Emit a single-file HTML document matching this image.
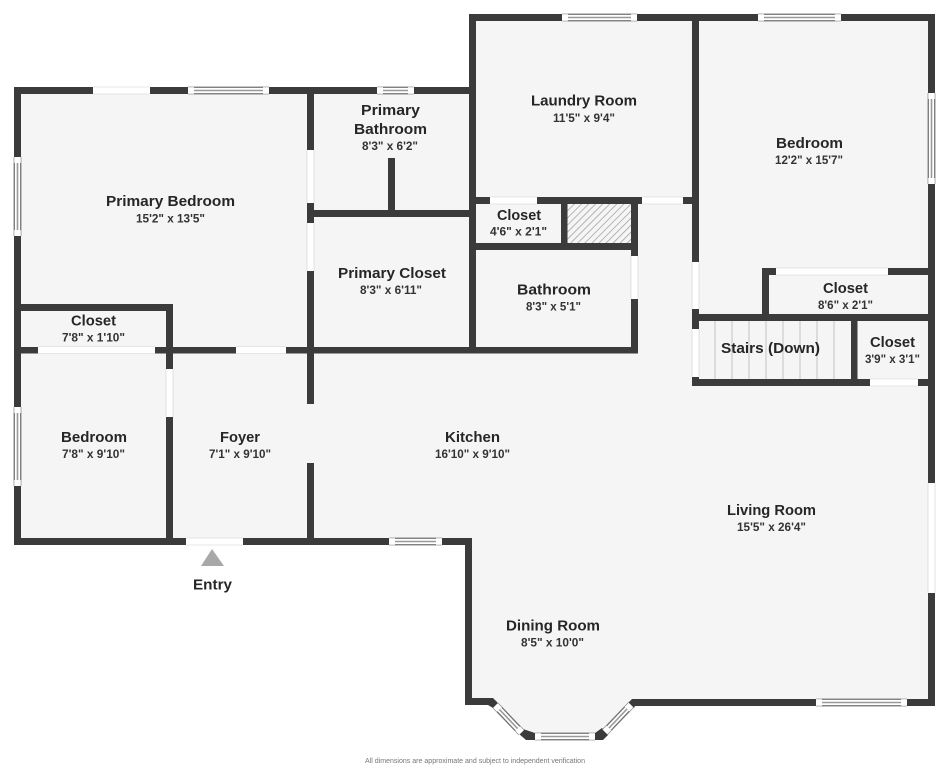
<!DOCTYPE html>
<html>
<head>
<meta charset="utf-8">
<title>Floor plan</title>
<style>
html,body{margin:0;padding:0;background:#fff}
svg{display:block}
text{font-family:"Liberation Sans",sans-serif;font-weight:700;font-size:14.5px;fill:#262626}
text.s{font-size:12px;fill:#333}
text.f{font-size:7px;font-weight:400;fill:#777}
.w{fill:#3b3b3b}
path,line{fill:none}
</style>
</head>
<body>
<svg width="949" height="768" viewBox="0 0 949 768" xmlns="http://www.w3.org/2000/svg">
<defs>
<pattern id="h" width="5" height="5" patternUnits="userSpaceOnUse" patternTransform="rotate(45)">
<rect width="5" height="5" fill="#f5f5f5"/><line x1="0" y1="0" x2="0" y2="5" stroke="#999" stroke-width="1.4"/>
</pattern>
<path id="win" d="M188 90.5H269M377 90.5H414M562 17.5H637M758 17.5H841M931.5 93V184M17.5 157V236M17.5 407V486M389 541.5H442M816 702.5H907M535 736.5H595M495.5 705.5L521.5 732.5M605 732L631 705"/>
<path id="inn" d="M194 90.5H263M383 90.5H408M568 17.5H631M764 17.5H835M931.5 99V178M17.5 163V230M17.5 413V480M395 541.5H436M822 702.5H901M541 736.5H589M499.5 709.5L517.5 728.5M609 728L627 709"/>
<path id="dr" d="M93 90.5H150M490 200.5H537M642 200.5H683M776 271.5H888M870 382.5H918M38 350H155M236 350H286M186 541.5H243M310.5 150V203M310.5 223V271M634.5 256V299M695.5 262V309M695.5 329V377M931.5 483V593M169.5 369V417"/>
</defs>

<polygon fill="#f5f5f5" points="14,87 469,87 469,14 935,14 935,706 635,706 605,738 522,738 492,705 465,705 465,545 14,545"/>
<rect x="567" y="204" width="65" height="39" fill="url(#h)"/>

<g stroke="#c4c4c4" stroke-width="1" fill="none">
<path d="M715 321V379M732 321V379M749 321V379M766 321V379M783 321V379M800 321V379M817 321V379M834 321V379"/>
</g>

<g class="w">
<rect x="14" y="87" width="458" height="7"/>
<rect x="469" y="14" width="466" height="7"/>
<rect x="14" y="87" width="7" height="458"/>
<rect x="14" y="538" width="458" height="7"/>
<rect x="465" y="538" width="7" height="167"/>
<rect x="928" y="14" width="7" height="692"/>
<rect x="469" y="14" width="7" height="339"/>
<rect x="692" y="14" width="7" height="372"/>
<rect x="307" y="87" width="7" height="317"/>
<rect x="307" y="463" width="7" height="82"/>
<rect x="166" y="304" width="7" height="241"/>
<rect x="14" y="304" width="159" height="7"/>
<rect x="14" y="347" width="624" height="6.5"/>
<rect x="631" y="197" width="7" height="156"/>
<rect x="469" y="197" width="230" height="7"/>
<rect x="469" y="243" width="169" height="7"/>
<rect x="561" y="197" width="6.5" height="53"/>
<rect x="307" y="210" width="169" height="7"/>
<rect x="388" y="158" width="7" height="59"/>
<rect x="762" y="268" width="173" height="7"/>
<rect x="762" y="268" width="7" height="53"/>
<rect x="692" y="314" width="243" height="7"/>
<rect x="851" y="314" width="6.5" height="72"/>
<rect x="692" y="379" width="243" height="7"/>
<polygon points="465,698 493,698 498,703 493,708 488,705 465,705"/>
<polygon points="628,703 632,699 935,699 935,706 635,706 634,708"/>
<polygon points="518,733 523,729 535,733 535,740 526,740"/>
<polygon points="595,733 602,728 608,735 603,740 595,740"/>
</g>

<use href="#dr" stroke="#cfcfcf" stroke-width="7.6" fill="none"/>
<use href="#dr" stroke="#fff" stroke-width="6.4" fill="none"/>
<use href="#win" stroke="#8c8c8c" stroke-width="7.8" fill="none"/>
<use href="#win" stroke="#fff" stroke-width="6.4" fill="none"/>
<use href="#inn" stroke="#707070" stroke-width="7.4" fill="none"/>
<use href="#inn" stroke="#fff" stroke-width="5.2" fill="none"/>
<use href="#inn" stroke="#999" stroke-width="1.6" fill="none"/>

<polygon points="212,549 201,566 224,566" fill="#a8a8a8"/>

<text x="106" y="206" textLength="129" lengthAdjust="spacingAndGlyphs">Primary Bedroom</text>
<text class="s" x="136" y="222.5" textLength="69" lengthAdjust="spacingAndGlyphs">15'2" x 13'5"</text>
<text x="71" y="325.5" textLength="45" lengthAdjust="spacingAndGlyphs">Closet</text>
<text class="s" x="62" y="341.5" textLength="63" lengthAdjust="spacingAndGlyphs">7'8" x 1'10"</text>
<text x="361" y="115" textLength="59" lengthAdjust="spacingAndGlyphs">Primary</text>
<text x="354" y="134" textLength="73" lengthAdjust="spacingAndGlyphs">Bathroom</text>
<text class="s" x="362" y="150" textLength="56" lengthAdjust="spacingAndGlyphs">8'3" x 6'2"</text>
<text x="531" y="105.5" textLength="106" lengthAdjust="spacingAndGlyphs">Laundry Room</text>
<text class="s" x="553" y="122" textLength="62" lengthAdjust="spacingAndGlyphs">11'5" x 9'4"</text>
<text x="497" y="220" textLength="44" lengthAdjust="spacingAndGlyphs">Closet</text>
<text class="s" x="490" y="235.5" textLength="57" lengthAdjust="spacingAndGlyphs">4'6" x 2'1"</text>
<text x="338" y="278" textLength="108" lengthAdjust="spacingAndGlyphs">Primary Closet</text>
<text class="s" x="360" y="294" textLength="62" lengthAdjust="spacingAndGlyphs">8'3" x 6'11"</text>
<text x="517" y="294.5" textLength="74" lengthAdjust="spacingAndGlyphs">Bathroom</text>
<text class="s" x="526" y="310.5" textLength="55" lengthAdjust="spacingAndGlyphs">8'3" x 5'1"</text>
<text x="776" y="148" textLength="67" lengthAdjust="spacingAndGlyphs">Bedroom</text>
<text class="s" x="775" y="164" textLength="68" lengthAdjust="spacingAndGlyphs">12'2" x 15'7"</text>
<text x="823" y="293" textLength="45" lengthAdjust="spacingAndGlyphs">Closet</text>
<text class="s" x="818" y="309" textLength="55" lengthAdjust="spacingAndGlyphs">8'6" x 2'1"</text>
<text x="721" y="353" textLength="99" lengthAdjust="spacingAndGlyphs">Stairs (Down)</text>
<text x="870" y="347" textLength="45" lengthAdjust="spacingAndGlyphs">Closet</text>
<text class="s" x="865" y="363" textLength="55" lengthAdjust="spacingAndGlyphs">3'9" x 3'1"</text>
<text x="61" y="442" textLength="66" lengthAdjust="spacingAndGlyphs">Bedroom</text>
<text class="s" x="62" y="458" textLength="63" lengthAdjust="spacingAndGlyphs">7'8" x 9'10"</text>
<text x="220" y="442" textLength="40" lengthAdjust="spacingAndGlyphs">Foyer</text>
<text class="s" x="209" y="458" textLength="62" lengthAdjust="spacingAndGlyphs">7'1" x 9'10"</text>
<text x="445" y="442" textLength="55" lengthAdjust="spacingAndGlyphs">Kitchen</text>
<text class="s" x="435" y="458" textLength="75" lengthAdjust="spacingAndGlyphs">16'10" x 9'10"</text>
<text x="727" y="515" textLength="89" lengthAdjust="spacingAndGlyphs">Living Room</text>
<text class="s" x="737" y="531" textLength="69" lengthAdjust="spacingAndGlyphs">15'5" x 26'4"</text>
<text x="506" y="630.5" textLength="94" lengthAdjust="spacingAndGlyphs">Dining Room</text>
<text class="s" x="521" y="646.5" textLength="63" lengthAdjust="spacingAndGlyphs">8'5" x 10'0"</text>
<text x="193" y="589.5" textLength="39" lengthAdjust="spacingAndGlyphs">Entry</text>
<text class="f" x="365" y="763" textLength="220" lengthAdjust="spacingAndGlyphs">All dimensions are approximate and subject to independent verification</text>
</svg>
</body>
</html>
